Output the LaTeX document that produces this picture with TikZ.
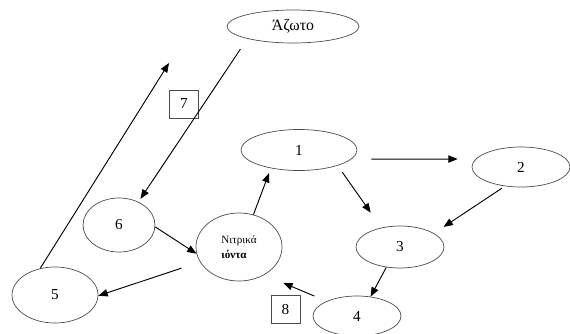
\documentclass[tikz,border=0pt]{standalone}
\usepackage{fontspec}
\setmainfont{Liberation Serif}
\usetikzlibrary{shapes.geometric,arrows.meta}
\begin{document}
\begin{tikzpicture}[x=0.03cm,y=-0.03cm,
  elipse/.style={ellipse,draw=black!70,line width=0.6pt,inner sep=0pt,font=\fontsize{13}{15}\selectfont},
  caja/.style={draw=black!70,line width=0.6pt,minimum width=0.87cm,minimum height=0.84cm,inner sep=0pt,font=\fontsize{13}{15}\selectfont},
  flecha/.style={line width=0.8pt,-{Triangle[length=2.8mm,width=2.2mm]}}]
\useasboundingbox (0,0) rectangle (570,333);

% Las elipses del ciclo
\node[elipse,minimum width=3.96cm,minimum height=0.99cm,font=\fontsize{13.5}{15}\selectfont] (azoto) at (293,26.5) {Άζωτο};
\node[elipse,minimum width=3.48cm,minimum height=1.23cm] (n1) at (299,150) {1};
\node[elipse,minimum width=2.94cm,minimum height=1.2cm] (n2) at (521,167) {2};
\node[elipse,minimum width=2.64cm,minimum height=1.26cm] (n3) at (400,247) {3};
\node[elipse,minimum width=2.64cm,minimum height=1.2cm] (n4) at (357,316) {4};
\node[elipse,minimum width=2.58cm,minimum height=1.68cm] (n5) at (55,295) {5};
\node[elipse,minimum width=2.16cm,minimum height=1.62cm] (n6) at (119,225) {6};
\node[elipse,minimum width=2.58cm,minimum height=2.04cm,align=left,font=\fontsize{9.5}{13}\selectfont] (nit) at (239,247) {Νιτρικά\\\textbf{ιόντα}};

% Cajas con numero
\node[caja] (b7) at (184,104) {7};
\node[caja] (b8) at (285.5,309.5) {8};

% Punta libre de la flecha que sale de 5
\coordinate (tip5) at (169,63);

% Flechas
\draw[flecha,shorten <=0.375cm,shorten >=0.11cm] (azoto.195) -- (n6.50);
\draw[flecha] (n5.119) -- (tip5);
\draw[flecha] (n6.357) -- (nit.189);
\draw[flecha,shorten <=0.585cm] (nit.201) -- (n5.359);
\draw[flecha,shorten >=0.156cm] (nit.66) -- (n1.213);
\draw[flecha,shorten <=0.6cm,shorten >=0.54cm] (n1.350) -- (n2.170);
\draw[flecha,shorten <=0.24cm,shorten >=0.55cm] (n1.338) -- (n3.134);
\draw[flecha,shorten <=0.11cm,shorten >=0.345cm] (n2.230) -- (n3.22);
\draw[flecha] (n3.236) -- (n4.55);
\draw[flecha,shorten <=0.4cm,shorten >=0.62cm] (n4.154) -- (nit.312);
\end{tikzpicture}
\end{document}
